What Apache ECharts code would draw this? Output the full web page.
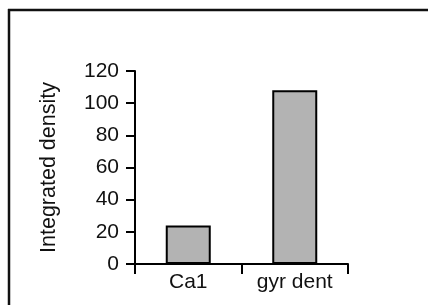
<!DOCTYPE html>
<html>
<head>
<meta charset="utf-8">
<script src="https://cdn.jsdelivr.net/npm/echarts@6/dist/echarts.min.js"></script>
<style>
  html, body { margin: 0; padding: 0; background: #fff; }
  #chart { width: 428px; height: 305px; }
</style>
</head>
<body>
<div id="chart"></div>
<script>
// data
const categories = ['Ca1', 'gyr dent'];
const densityValues = [24, 108];
const yTicks = [0, 20, 40, 60, 80, 100, 120];

const chart = echarts.init(document.getElementById('chart'));
const font = 'Liberation Sans, Arial, sans-serif';

chart.setOption({
  animation: false,
  backgroundColor: '#fff',
  // frame: only top and left edges are visible in the original
  graphic: [
    { type: 'line', shape: { x1: 8, y1: 10, x2: 428, y2: 10 }, style: { stroke: '#111', lineWidth: 2.5 } },
    { type: 'line', shape: { x1: 9, y1: 9, x2: 9, y2: 305 }, style: { stroke: '#111', lineWidth: 2.5 } }
  ],
  grid: { left: 135, right: 80, top: 71, bottom: 41, containLabel: false },
  xAxis: {
    type: 'category',
    data: categories,
    boundaryGap: true,
    axisLine: { lineStyle: { color: '#000', width: 2 } },
    axisTick: { show: true, length: 10, lineStyle: { color: '#000', width: 2 } },
    axisLabel: { color: '#111', fontSize: 21, fontFamily: font, margin: 8 }
  },
  yAxis: {
    type: 'value',
    min: yTicks[0],
    max: yTicks[yTicks.length - 1],
    interval: yTicks[1] - yTicks[0],
    name: 'Integrated density',
    nameLocation: 'middle',
    nameGap: 75,
    nameTextStyle: { color: '#111', fontSize: 21.5, fontFamily: font },
    splitLine: { show: false },
    axisLine: { show: true, lineStyle: { color: '#000', width: 2 } },
    axisTick: { show: true, length: 9, lineStyle: { color: '#000', width: 2 } },
    axisLabel: { color: '#111', fontSize: 21, fontFamily: font, margin: 16 }
  },
  series: [{
    type: 'bar',
    data: densityValues,
    barWidth: 45,
    itemStyle: { color: '#b3b3b3', borderColor: '#000', borderWidth: 2 }
  }]
});
</script>
</body>
</html>
